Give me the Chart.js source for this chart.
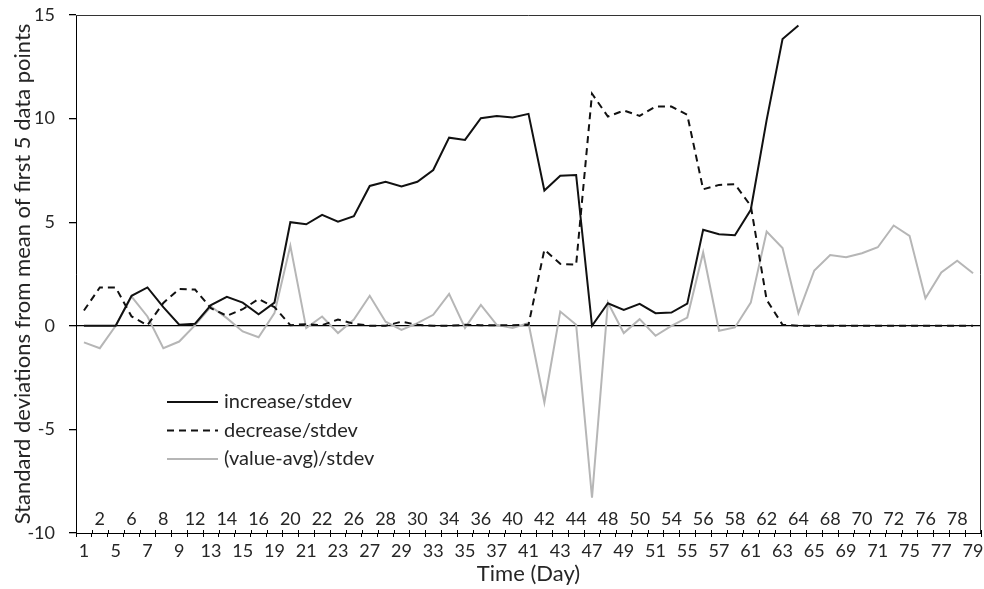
<!DOCTYPE html>
<html>
<head>
<meta charset="utf-8">
<script src="https://cdn.jsdelivr.net/npm/chart.js@4/dist/chart.umd.min.js"></script>
<style>
  html, body { margin: 0; padding: 0; background: #fff; }
  #wrap { width: 984px; height: 589px; }
</style>
</head>
<body>
<div id="wrap"><canvas id="chart" width="984" height="589"></canvas></div>
<script>
// weekdays only (weekends skipped)
const days = [1, 2, 5, 6, 7, 8, 9, 12, 13, 14, 15, 16, 19, 20, 21, 22, 23, 26, 27, 28, 29, 30,
  33, 34, 35, 36, 37, 40, 41, 42, 43, 44, 47, 48, 49, 50, 51, 54, 55, 56, 57, 58,
  61, 62, 63, 64, 65, 68, 69, 70, 71, 72, 75, 76, 77, 78, 79];

const increase = [0, 0, 0, 1.45, 1.85, 0.9, 0.05, 0.1, 1.0, 1.4, 1.12, 0.56, 1.12, 5.0, 4.9,
  5.35, 5.02, 5.29, 6.75, 6.95, 6.72, 6.95, 7.52, 9.08, 8.97, 10.02, 10.13, 10.05, 10.23,
  6.53, 7.24, 7.28, 0, 1.09, 0.77, 1.06, 0.61, 0.64, 1.07, 4.63, 4.42, 4.37, 5.6, 9.94,
  13.84, 14.49, null, null, null, null, null, null, null, null, null, null, null];

const decrease = [0.74, 1.85, 1.85, 0.45, 0.03, 1.1, 1.78, 1.75, 0.85, 0.48, 0.8, 1.29, 0.9,
  0.03, 0.08, 0.03, 0.3, 0.1, 0, 0, 0.2, 0.05, 0, 0, 0.05, 0.03, 0.03, 0.03, 0.05, 3.67,
  2.99, 2.95, 11.2, 10.1, 10.39, 10.13, 10.58, 10.58, 10.18, 6.59, 6.8, 6.83, 5.79, 1.25,
  0.05, 0, 0, 0, 0, 0, 0, 0, 0, 0, 0, 0, 0];

const valueAvg = [-0.8, -1.08, 0, 1.41, 0.45, -1.08, -0.76, 0.03, 0.93, 0.37, -0.27, -0.55,
  0.61, 3.86, -0.11, 0.45, -0.35, 0.3, 1.45, 0.2, -0.2, 0.13, 0.53, 1.54, -0.1, 1.01, 0.05,
  -0.1, 0.13, -3.7, 0.69, 0.05, -8.3, 1.12, -0.35, 0.32, -0.48, 0, 0.4, 3.54, -0.24, -0.08,
  1.12, 4.55, 3.75, 0.61, 2.67, 3.42, 3.31, 3.5, 3.79, 4.84, 4.34, 1.33, 2.57, 3.14, 2.54];

const yTicks = [-10, -5, 0, 5, 10, 15];

const FONT = "Lato, 'Open Sans', sans-serif";
const TEXT = "#262626";

// top/right frame of the plot area and the inner half of the x ticks
const framePlugin = {
  id: "frame",
  afterDatasetsDraw(chart) {
    const { ctx, chartArea: a, scales } = chart;
    const x = scales.x;
    ctx.save();
    ctx.strokeStyle = "#333";
    ctx.lineWidth = 1;
    ctx.beginPath();
    ctx.moveTo(a.left, a.top + 0.5);
    ctx.lineTo(a.right - 0.5, a.top + 0.5);
    ctx.lineTo(a.right - 0.5, a.bottom);
    ctx.stroke();
    const half = (x.getPixelForValue(1) - x.getPixelForValue(0)) / 2;
    ctx.strokeStyle = "#000";
    ctx.beginPath();
    for (let i = 0; i <= days.length; i++) {
      const px = Math.round(x.getPixelForValue(i) - half) + 0.5;
      ctx.moveTo(px, a.bottom - 3);
      ctx.lineTo(px, a.bottom);
    }
    ctx.stroke();
    ctx.restore();
  }
};

// legend drawn inside the plot area
const innerLegend = {
  id: "innerLegend",
  afterDraw(chart, args, opts) {
    const { ctx } = chart;
    ctx.save();
    ctx.font = "20px " + FONT;
    ctx.textBaseline = "middle";
    chart.data.datasets.forEach((ds, i) => {
      const y = opts.y + i * opts.gap;
      ctx.strokeStyle = ds.borderColor;
      ctx.lineWidth = ds.borderWidth;
      ctx.setLineDash(ds.borderDash || []);
      ctx.beginPath();
      ctx.moveTo(opts.x, y);
      ctx.lineTo(opts.x + 51, y);
      ctx.stroke();
      ctx.setLineDash([]);
      ctx.fillStyle = TEXT;
      ctx.fillText(ds.label, opts.x + 57, y);
    });
    ctx.restore();
  }
};

new Chart(document.getElementById("chart"), {
  type: "line",
  data: {
    labels: days.map(String),
    datasets: [
      {
        label: "increase/stdev",
        data: increase,
        borderColor: "#111",
        borderWidth: 2,
        pointRadius: 0,
        tension: 0
      },
      {
        label: "decrease/stdev",
        data: decrease,
        borderColor: "#111",
        borderWidth: 2,
        borderDash: [7, 5],
        pointRadius: 0,
        tension: 0
      },
      {
        label: "(value-avg)/stdev",
        data: valueAvg,
        borderColor: "#b6b6b6",
        borderWidth: 2,
        pointRadius: 0,
        tension: 0
      }
    ]
  },
  plugins: [framePlugin, innerLegend],
  options: {
    responsive: false,
    animation: false,
    layout: { padding: { top: 15, right: 3, left: 0, bottom: 0 } },
    plugins: {
      legend: { display: false },
      tooltip: { enabled: false },
      innerLegend: { x: 167, y: 402, gap: 28.5 }
    },
    scales: {
      x: {
        type: "category",
        offset: true,
        afterFit: s => { s.height = 56; },
        grid: {
          offset: true,
          drawOnChartArea: false,
          tickLength: 4,
          tickColor: "#000"
        },
        border: { color: "#000", width: 1 },
        ticks: {
          autoSkip: false,
          maxRotation: 0,
          minRotation: 0,
          mirror: true,
          padding: -2,
          color: TEXT,
          font: { family: FONT, size: 18, lineHeight: 32 / 18 },
          // Excel-style staggered labels: odd positions above the axis line
          callback: function (v, i) {
            const d = String(days[i]);
            return i % 2 === 0 ? ["", d] : [d, ""];
          }
        },
        title: {
          display: true,
          text: "Time (Day)",
          color: TEXT,
          font: { family: FONT, size: 22 },
          padding: { top: 0, bottom: 2 }
        }
      },
      y: {
        min: -10,
        max: 15,
        afterFit: s => { s.width = 76; s.paddingTop = 0; s.paddingBottom = 0; },
        afterBuildTicks: s => { s.ticks = yTicks.map(v => ({ value: v })); },
        grid: {
          color: c => (c.tick && c.tick.value === 0 ? "#000" : "rgba(0,0,0,0)"),
          lineWidth: 1.3,
          tickLength: 7,
          tickColor: "#000"
        },
        border: { color: "#000", width: 1 },
        ticks: {
          padding: 14,
          color: TEXT,
          font: { family: FONT, size: 18 }
        },
        title: {
          display: true,
          text: "Standard deviations from mean of first 5 data points",
          color: TEXT,
          font: { family: FONT, size: 22 },
          padding: { top: 10, bottom: 0 }
        }
      }
    }
  }
});
</script>
</body>
</html>
